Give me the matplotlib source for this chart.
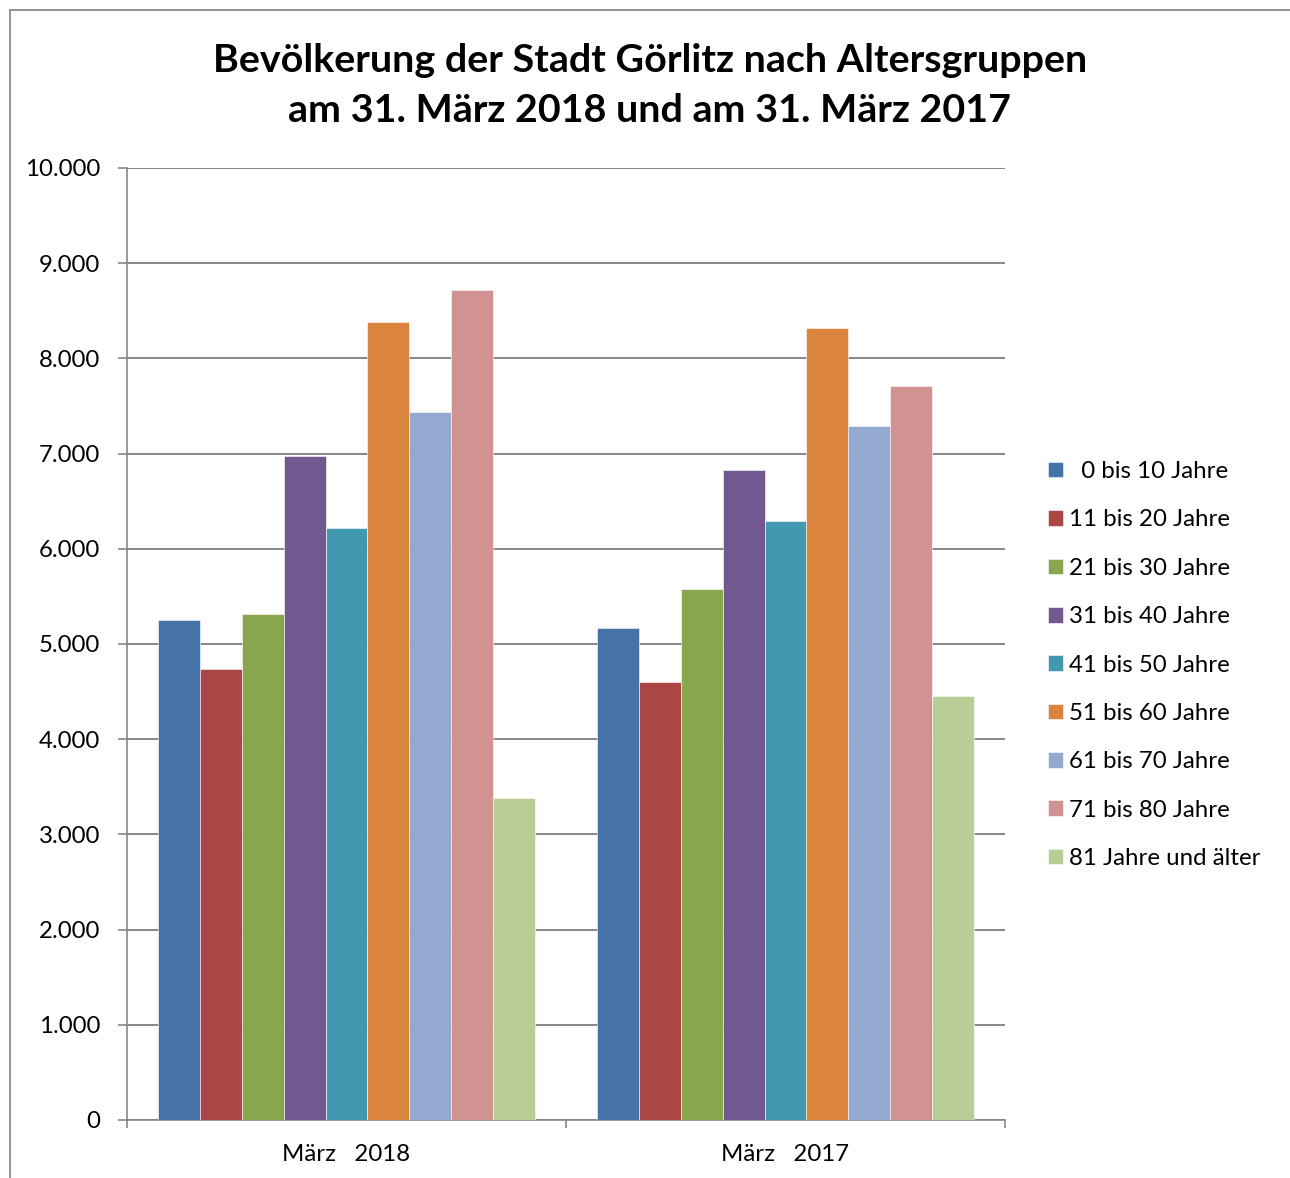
import matplotlib

matplotlib.use("Agg")
import matplotlib.pyplot as plt
import numpy as np
from matplotlib.lines import Line2D
from matplotlib.ticker import FuncFormatter

plt.rcParams["font.family"] = ["Lato", "DejaVu Sans"]

# data
categories = ["März   2018", "März   2017"]
age_groups = [
    "  0 bis 10 Jahre", "11 bis 20 Jahre", "21 bis 30 Jahre", "31 bis 40 Jahre",
    "41 bis 50 Jahre", "51 bis 60 Jahre", "61 bis 70 Jahre", "71 bis 80 Jahre",
    "81 Jahre und älter",
]
values_2018 = [5250, 4735, 5320, 6975, 6215, 8385, 7435, 8720, 3385]
values_2017 = [5170, 4600, 5580, 6830, 6290, 8320, 7290, 7705, 4455]
colors = ["#4572A7", "#AA4643", "#89A54E", "#71588F", "#4198AF",
          "#DB843D", "#93A9CF", "#D19392", "#B9CD96"]

W, H = 1290, 1178
fig = plt.figure(figsize=(W / 100, H / 100), dpi=100)
ax = fig.add_axes([127 / W, 1 - 1120 / H, (1005 - 127) / W, (1120 - 168) / H])

x = np.arange(len(categories))
bar_w = 41.8 / 439
for i, (grp, col) in enumerate(zip(age_groups, colors)):
    vals = [values_2018[i], values_2017[i]]
    ax.bar(x + (i - 4) * bar_w, vals, width=bar_w, color=col, label=grp,
           edgecolor="white", linewidth=0.4, zorder=3)

grid_c = "#868686"
fs = 17.3
ax.set_xlim(-0.5, 1.5)
ax.set_ylim(0, 10000)
ax.set_yticks(np.arange(0, 10001, 1000))
ax.yaxis.set_major_formatter(FuncFormatter(lambda v, _: f"{int(v):,}".replace(",", ".")))
ax.grid(axis="y", color=grid_c, linewidth=1.4, zorder=0)
ax.set_xticks([-0.5, 0.5, 1.5])
ax.set_xticklabels([])
ax.set_xticks(x, minor=True)
ax.set_xticklabels(categories, minor=True)
ax.tick_params(axis="x", which="minor", length=0, pad=17, labelsize=fs)
ax.tick_params(axis="x", which="major", length=6, width=1.2, color=grid_c)
ax.tick_params(axis="y", length=6.5, width=1.2, color=grid_c, pad=13, labelsize=fs)
for side in ("top", "right"):
    ax.spines[side].set_visible(False)
for side in ("left", "bottom"):
    ax.spines[side].set_color(grid_c)
    ax.spines[side].set_linewidth(1.2)

fig.text(650 / W, 1 - 60 / H, "Bevölkerung der Stadt Görlitz nach Altersgruppen",
         ha="center", va="center", fontsize=28.4, fontweight="bold")
fig.text(650 / W, 1 - 110 / H, "am 31. März 2018 und am 31. März 2017",
         ha="center", va="center", fontsize=28.4, fontweight="bold")

fig.legend(loc="upper left", bbox_to_anchor=(1048 / W, 1 - 461 / H), frameon=False,
           fontsize=fs, handlelength=0.62, handleheight=0.62, handletextpad=0.26,
           labelspacing=1.14, borderpad=0, borderaxespad=0)

# outer chart frame (left and top edges visible in the reference)
fig.add_artist(Line2D([10 / W, 10 / W], [0, 1 - 10 / H], transform=fig.transFigure,
                      color="#8c8c8c", linewidth=1.3))
fig.add_artist(Line2D([10 / W, 1], [1 - 10 / H, 1 - 10 / H], transform=fig.transFigure,
                      color="#8c8c8c", linewidth=1.3))

fig.savefig("out.png", dpi=100)
